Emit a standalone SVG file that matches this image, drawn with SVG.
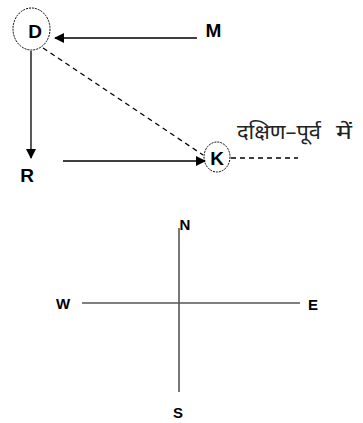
<svg xmlns="http://www.w3.org/2000/svg" width="363" height="423" viewBox="0 0 363 423">
<style>
.lbl{font-family:"Liberation Sans",Arial,sans-serif;font-weight:bold;font-size:19px;fill:#000;text-anchor:middle;dominant-baseline:central}
.ring{fill:none;stroke:#000;stroke-width:1;stroke-dasharray:2 1}
.ln{fill:none;stroke:#000;stroke-width:1.3}
.dash{fill:none;stroke:#000;stroke-width:1.3;stroke-dasharray:5 4}
.cmp{fill:none;stroke:#555;stroke-width:1.6}
.hi{font-family:"Noto Sans","Noto Sans Devanagari",sans-serif;font-size:20px;fill:#222}
</style>
<defs>
<marker id="ah" markerWidth="10" markerHeight="10" refX="9" refY="5" orient="auto" markerUnits="userSpaceOnUse">
<path d="M0,0 L10,5 L0,10 Z" fill="#000"/>
</marker>
</defs>
<rect width="363" height="423" fill="#fff"/>
<g id="connectors">
<line class="ln" x1="197" y1="38" x2="55" y2="38" marker-end="url(#ah)"/>
<line class="ln" x1="31" y1="51" x2="31" y2="158" marker-end="url(#ah)"/>
<line class="ln" x1="63" y1="161" x2="205" y2="161" marker-end="url(#ah)"/>
<line class="dash" x1="43" y1="48" x2="203" y2="155"/>
<line class="dash" x1="231" y1="158" x2="298" y2="158"/>
</g>
<g id="D"><ellipse class="ring" cx="31.5" cy="29" rx="18.5" ry="21"/><text class="lbl" x="35" y="31">D</text></g>
<g id="M"><text class="lbl" x="213.5" y="30.5">M</text></g>
<g id="R"><text class="lbl" x="27" y="175">R</text></g>
<g id="K"><ellipse class="ring" cx="217" cy="157" rx="13" ry="15"/><text class="lbl" x="217" y="158">K</text></g>
<g id="note"><text class="hi" x="237" y="139" textLength="84" lengthAdjust="spacingAndGlyphs">दक्षिण–पूर्व</text><text class="hi" x="336" y="139" textLength="16" lengthAdjust="spacingAndGlyphs">में</text></g>
<g id="compass">
<line class="cmp" x1="179" y1="228" x2="179" y2="392"/>
<line class="cmp" x1="82" y1="303" x2="300" y2="303"/>
<text class="lbl" x="185" y="224" style="font-size:15px">N</text>
<text class="lbl" x="63" y="303" style="font-size:15px">W</text>
<text class="lbl" x="313" y="304" style="font-size:15px">E</text>
<text class="lbl" x="178" y="412" style="font-size:15px">S</text>
</g>
</svg>
